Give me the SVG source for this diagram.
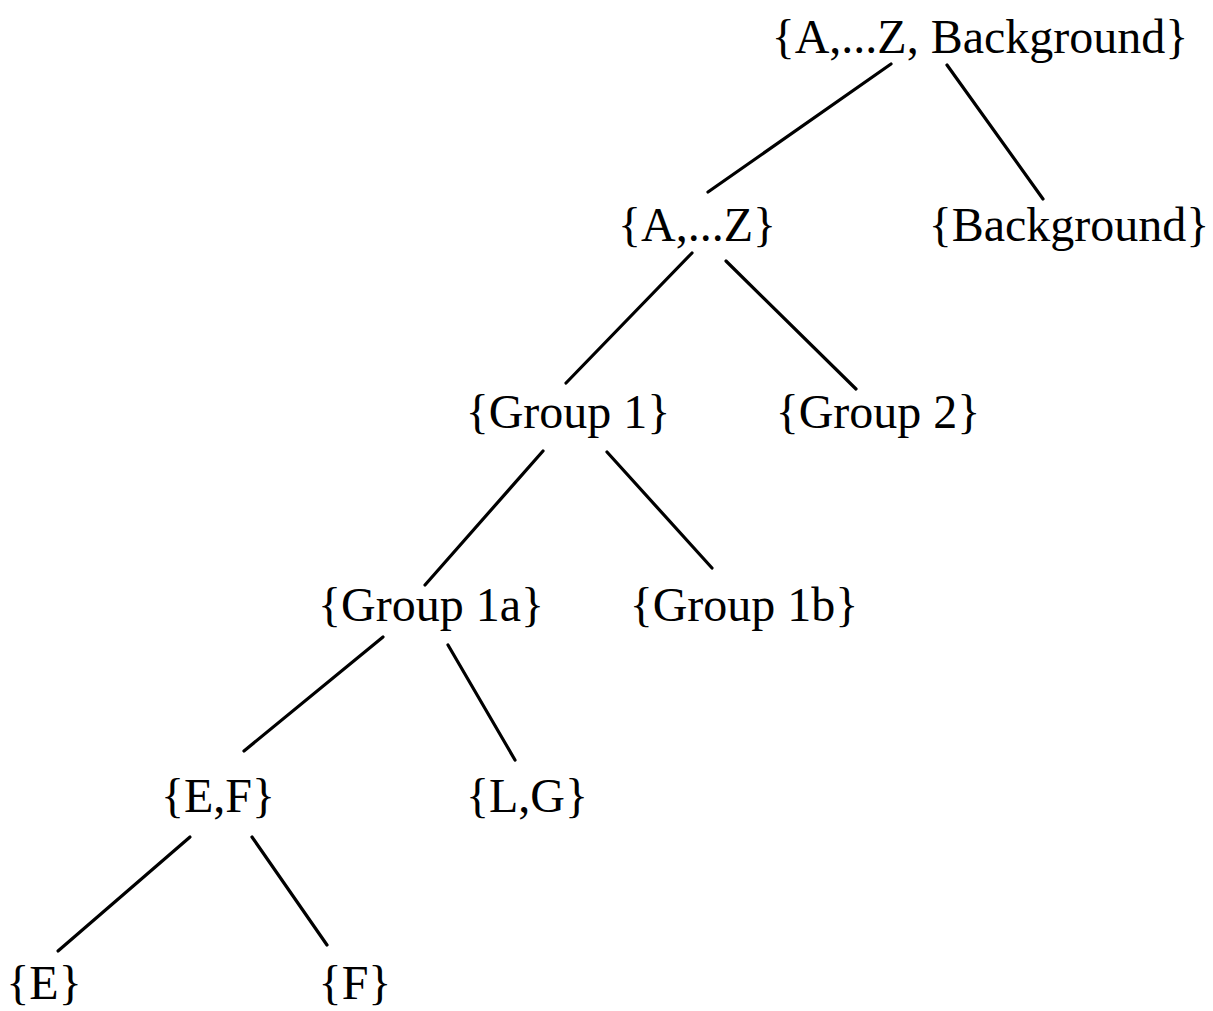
<svg xmlns="http://www.w3.org/2000/svg" width="1213" height="1011" viewBox="0 0 1213 1011">
<style>
text{font-family:"Liberation Serif","DejaVu Serif",serif;font-size:48px;fill:#000;text-anchor:middle}
.c line{stroke:#000;stroke-width:3.2;stroke-linecap:round}
</style>
<rect width="1213" height="1011" fill="#fff"/>
<g class="c" id="connectors">
<line x1="891" y1="64" x2="708" y2="192"/>
<line x1="947" y1="65" x2="1043" y2="199"/>
<line x1="692" y1="253" x2="566" y2="383"/>
<line x1="726" y1="261" x2="856" y2="389"/>
<line x1="543" y1="451" x2="425" y2="585"/>
<line x1="607" y1="452" x2="712" y2="568"/>
<line x1="383" y1="637" x2="244" y2="751"/>
<line x1="448" y1="645" x2="515" y2="760"/>
<line x1="190" y1="837" x2="58" y2="951"/>
<line x1="252" y1="837" x2="327" y2="945"/>
</g>
<g id="n-root"><text x="980" y="53">{A,...Z, Background}</text></g>
<g id="n-az"><text x="697" y="241">{A,...Z}</text></g>
<g id="n-bg"><text x="1069" y="241">{Background}</text></g>
<g id="n-g1"><text x="568" y="428">{Group 1}</text></g>
<g id="n-g2"><text x="878" y="428">{Group 2}</text></g>
<g id="n-g1a"><text x="431" y="621">{Group 1a}</text></g>
<g id="n-g1b"><text x="744" y="621">{Group 1b}</text></g>
<g id="n-ef"><text x="218" y="812">{E,F}</text></g>
<g id="n-lg"><text x="527" y="812">{L,G}</text></g>
<g id="n-e"><text x="44" y="999">{E}</text></g>
<g id="n-f"><text x="355" y="999">{F}</text></g>
</svg>
